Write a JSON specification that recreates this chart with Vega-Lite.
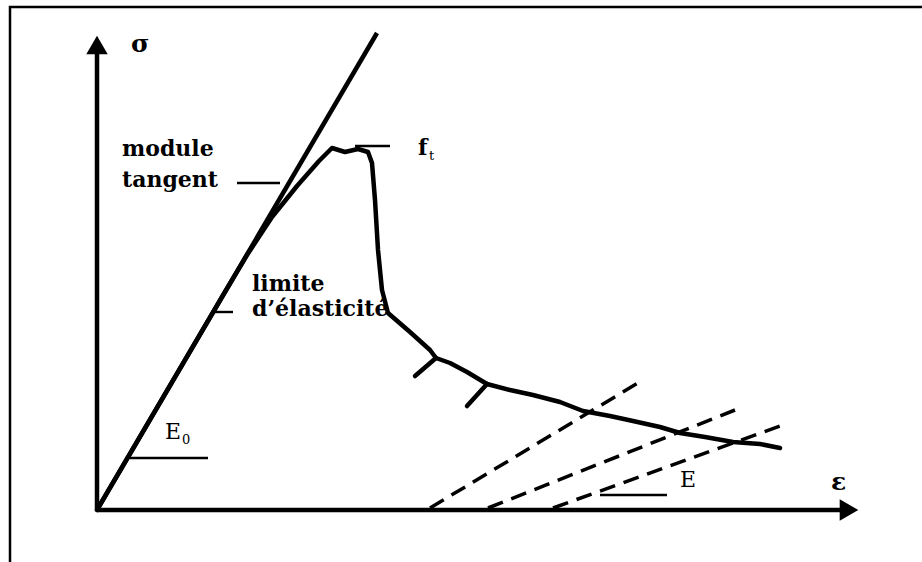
{
  "$schema": "https://vega.github.io/schema/vega-lite/v6.json",
  "width": 922,
  "height": 562,
  "autosize": {"type": "none"},
  "padding": 0,
  "background": "white",
  "config": {"view": {"stroke": null}},
  "datasets": {
    "frame": [{"x": -87, "y": -52, "o": 0}, {"x": -87, "y": 503, "o": 1}, {"x": 825, "y": 503, "o": 2}],
    "axes": [
      {"g": "y", "x": 0, "y": 0, "o": 0}, {"g": "y", "x": 0, "y": 462, "o": 1},
      {"g": "x", "x": 0, "y": 0, "o": 0}, {"g": "x", "x": 745, "y": 0, "o": 1}
    ],
    "tangent": [{"x": 0, "y": 0, "o": 0}, {"x": 280, "y": 477, "o": 1}],
    "curve": [
      {"x": 0, "y": 0, "o": 0}, {"x": 125, "y": 213, "o": 1}, {"x": 150, "y": 255, "o": 2},
      {"x": 175, "y": 293, "o": 3}, {"x": 200, "y": 324, "o": 4}, {"x": 222, "y": 349, "o": 5},
      {"x": 235, "y": 362, "o": 6}, {"x": 248, "y": 358, "o": 7}, {"x": 261, "y": 361, "o": 8},
      {"x": 271, "y": 358, "o": 9}, {"x": 275, "y": 347, "o": 10}, {"x": 278, "y": 310, "o": 11},
      {"x": 281, "y": 260, "o": 12}, {"x": 285, "y": 220, "o": 13}, {"x": 291, "y": 197, "o": 14},
      {"x": 313, "y": 178, "o": 15}, {"x": 333, "y": 160, "o": 16}, {"x": 339, "y": 152, "o": 17},
      {"x": 353, "y": 147, "o": 18}, {"x": 370, "y": 138, "o": 19}, {"x": 390, "y": 126, "o": 20},
      {"x": 413, "y": 120, "o": 21}, {"x": 436, "y": 115, "o": 22}, {"x": 463, "y": 108, "o": 23},
      {"x": 486, "y": 99, "o": 24}, {"x": 513, "y": 94, "o": 25}, {"x": 536, "y": 89, "o": 26},
      {"x": 563, "y": 83, "o": 27}, {"x": 583, "y": 77, "o": 28}, {"x": 608, "y": 73, "o": 29},
      {"x": 636, "y": 68, "o": 30}, {"x": 663, "y": 66, "o": 31}, {"x": 683, "y": 62, "o": 32}
    ],
    "branches": [
      {"g": "b1", "x": 339, "y": 152, "o": 0}, {"g": "b1", "x": 318, "y": 134, "o": 1},
      {"g": "b2", "x": 390, "y": 126, "o": 0}, {"g": "b2", "x": 370, "y": 104, "o": 1}
    ],
    "unload": [
      {"g": "u1", "x": 333, "y": 2, "o": 0}, {"g": "u1", "x": 546, "y": 130, "o": 1},
      {"g": "u2", "x": 391, "y": 2, "o": 0}, {"g": "u2", "x": 638, "y": 100, "o": 1},
      {"g": "u3", "x": 456, "y": 2, "o": 0}, {"g": "u3", "x": 686, "y": 85, "o": 1}
    ],
    "leaders": [
      {"g": "tan", "x": 140, "y": 327, "o": 0}, {"g": "tan", "x": 183, "y": 327, "o": 1},
      {"g": "ft", "x": 258, "y": 364, "o": 0}, {"g": "ft", "x": 293, "y": 364, "o": 1},
      {"g": "el", "x": 116, "y": 198, "o": 0}, {"g": "el", "x": 136, "y": 198, "o": 1},
      {"g": "E0", "x": 33, "y": 52, "o": 0}, {"g": "E0", "x": 111, "y": 52, "o": 1},
      {"g": "E", "x": 503, "y": 15, "o": 0}, {"g": "E", "x": 570, "y": 15, "o": 1}
    ],
    "arrows": [
      {"x": 0, "y": 465, "shape": "triangle-up"},
      {"x": 752, "y": 0, "shape": "triangle-right"}
    ],
    "boldText": [
      {"x": 25, "y": 361, "t": "module"},
      {"x": 25, "y": 330, "t": "tangent"},
      {"x": 155, "y": 226, "t": "limite"},
      {"x": 155, "y": 201, "t": "d’élasticité"},
      {"x": 321, "y": 362, "t": "f"}
    ],
    "symBold": [
      {"x": 34, "y": 466, "t": "σ"},
      {"x": 734, "y": 28, "t": "ε"}
    ],
    "symText": [
      {"x": 68, "y": 78, "t": "E"},
      {"x": 583, "y": 30, "t": "E"}
    ],
    "subText": [
      {"x": 332, "y": 354, "t": "t"},
      {"x": 85, "y": 70, "t": "0"}
    ]
  },
  "encoding": {
    "x": {"field": "x", "type": "quantitative", "scale": {"domain": [-97, 825], "nice": false, "zero": false}, "axis": null},
    "y": {"field": "y", "type": "quantitative", "scale": {"domain": [-52, 510], "nice": false, "zero": false}, "axis": null}
  },
  "layer": [
    {"data": {"name": "frame"}, "mark": {"type": "line", "color": "black", "strokeWidth": 2.5, "clip": false}, "encoding": {"order": {"field": "o"}}},
    {"data": {"name": "axes"}, "mark": {"type": "line", "color": "black", "strokeWidth": 4.5}, "encoding": {"detail": {"field": "g"}, "order": {"field": "o"}}},
    {"data": {"name": "arrows"}, "mark": {"type": "point", "filled": true, "color": "black", "size": 460, "opacity": 1}, "encoding": {"shape": {"field": "shape", "type": "nominal", "scale": null}}},
    {"data": {"name": "tangent"}, "mark": {"type": "line", "color": "black", "strokeWidth": 4.5}, "encoding": {"order": {"field": "o"}}},
    {"data": {"name": "curve"}, "mark": {"type": "line", "color": "black", "strokeWidth": 4.5, "interpolate": "linear", "strokeJoin": "round", "strokeCap": "round"}, "encoding": {"order": {"field": "o"}}},
    {"data": {"name": "branches"}, "mark": {"type": "line", "color": "black", "strokeWidth": 4.5, "strokeCap": "round"}, "encoding": {"detail": {"field": "g"}, "order": {"field": "o"}}},
    {"data": {"name": "unload"}, "mark": {"type": "line", "color": "black", "strokeWidth": 3.5, "strokeDash": [16, 9]}, "encoding": {"detail": {"field": "g"}, "order": {"field": "o"}}},
    {"data": {"name": "leaders"}, "mark": {"type": "line", "color": "black", "strokeWidth": 2.4}, "encoding": {"detail": {"field": "g"}, "order": {"field": "o"}}},
    {"data": {"name": "boldText"}, "mark": {"type": "text", "font": "DejaVu Serif", "fontWeight": "bold", "fontSize": 22, "align": "left", "baseline": "middle", "color": "black"}, "encoding": {"text": {"field": "t"}}},
    {"data": {"name": "symBold"}, "mark": {"type": "text", "font": "DejaVu Serif", "fontWeight": "bold", "fontSize": 25, "align": "left", "baseline": "middle", "color": "black"}, "encoding": {"text": {"field": "t"}}},
    {"data": {"name": "symText"}, "mark": {"type": "text", "font": "DejaVu Serif", "fontSize": 22, "align": "left", "baseline": "middle", "color": "black"}, "encoding": {"text": {"field": "t"}}},
    {"data": {"name": "subText"}, "mark": {"type": "text", "font": "DejaVu Serif", "fontSize": 13, "align": "left", "baseline": "middle", "color": "black"}, "encoding": {"text": {"field": "t"}}}
  ]
}
